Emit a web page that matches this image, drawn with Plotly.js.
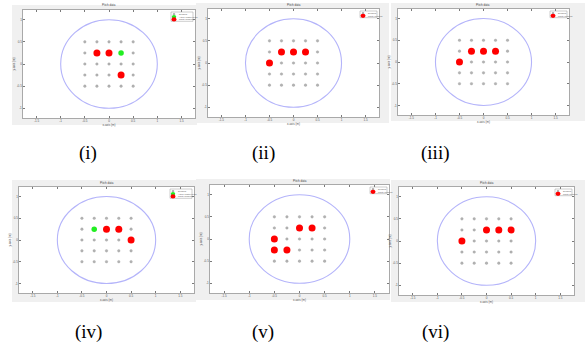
<!DOCTYPE html>
<html>
<head>
<meta charset="utf-8">
<script src="https://cdn.plot.ly/plotly-3.0.1.min.js"></script>
<style>html,body{margin:0;padding:0;background:#fff;}#chart{width:585px;height:348px;}</style>
</head>
<body>
<div id="chart"></div>
<script>
// ---- data ----
const gridVals = [-0.5, -0.25, 0, 0.25, 0.5];
const circleRadius = 1;
const panelLabels = ["(i)", "(ii)", "(iii)", "(iv)", "(v)", "(vi)"];
const panelTitles = ["Pitch data", "Pitch data", "Pitch data", "Pitch data", "Pitch data", "Pitch data"];
const xTicks = [-1.5, -1, -0.5, 0, 0.5, 1, 1.5];
const xTickText = ["-1.5", "-1", "-0.5", "0", "0.5", "1", "1.5"];
const yTicks = [-1, -0.5, 0, 0.5, 1];
const yTickText = ["-1", "-0.5", "0", "0.5", "1"];

const redX1 = [-0.25, 0, 0.25], redY1 = [0.25, 0.25, -0.25];
const greenX1 = [0.25], greenY1 = [0.25];
const redX2 = [-0.25, 0, 0.25, -0.5], redY2 = [0.25, 0.25, 0.25, 0];
const redX3 = [-0.25, 0, 0.25, -0.5], redY3 = [0.25, 0.25, 0.25, 0];
const redX4 = [0, 0.25, 0.5], redY4 = [0.25, 0.25, 0];
const greenX4 = [-0.25], greenY4 = [0.25];
const redX5 = [0, 0.25, -0.5, -0.5, -0.25], redY5 = [0.25, 0.25, 0, -0.25, -0.25];
const redX6 = [0, 0.25, 0.5, -0.5], redY6 = [0.25, 0.25, 0.25, 0];

const legendSensor = "Sensors";
const legendGreen = "Active cluster head";
const legendRed = "Faulty sensors";

// ---- layout geometry (pixels) ----
const W = 585, H = 348;
const plotBoxes = [
  [23, 10, 195, 118], [208, 9, 379, 117], [398, 9, 569, 115],
  [19, 187, 194, 293], [210, 185, 389, 293], [399, 187, 574, 295]
];
const grayBoxes = [
  [12, 5, 197, 125], [196, 3, 389, 123], [391, 3, 585, 121],
  [12, 180, 196, 302], [196, 179, 390, 300], [391, 180, 585, 302]
];
const labelPos = [[88, 153], [263, 153], [435, 153], [88, 332], [263, 332], [435, 332]];

const reds = [[redX1, redY1], [redX2, redY2], [redX3, redY3], [redX4, redY4], [redX5, redY5], [redX6, redY6]];
const greens = [[greenX1, greenY1], null, null, [greenX4, greenY4], null, null];

const gx = [], gy = [];
gridVals.forEach(y => gridVals.forEach(x => { gx.push(x); gy.push(y); }));

const px = v => v / W, py = v => 1 - v / H;

const traces = [];
const layout = {
  width: W, height: H, margin: {l: 0, r: 0, t: 0, b: 0},
  paper_bgcolor: "#ffffff", plot_bgcolor: "#ffffff",
  showlegend: false, shapes: [], annotations: [],
  font: {family: "Liberation Sans, Arial, sans-serif", size: 3, color: "#444"}
};

for (let i = 0; i < 6; i++) {
  const n = i + 1;
  const xa = n === 1 ? "x" : "x" + n;
  const ya = n === 1 ? "y" : "y" + n;
  const [x0, y0, x1, y1] = plotBoxes[i];
  const axBase = {
    showgrid: false, zeroline: false, showline: true, mirror: "ticks",
    linecolor: "#7a7a7a", linewidth: 0.6, ticks: "inside", ticklen: 2,
    tickcolor: "#7a7a7a", tickfont: {size: 3, color: "#555"}, fixedrange: true
  };
  layout["xaxis" + (n === 1 ? "" : n)] = Object.assign({}, axBase, {
    domain: [x0 / W, x1 / W], anchor: ya, range: [-1.78, 1.78],
    tickvals: xTicks, ticktext: xTickText,
    title: {text: "x-axis (m)", font: {size: 3, color: "#555"}, standoff: 1}
  });
  layout["yaxis" + (n === 1 ? "" : n)] = Object.assign({}, axBase, {
    domain: [1 - y1 / H, 1 - y0 / H], anchor: xa, range: [-1.22, 1.22],
    tickvals: yTicks, ticktext: yTickText,
    title: {text: "y-axis (m)", font: {size: 3, color: "#555"}, standoff: 1}
  });
  // gray figure background
  const [gx0, gy0, gx1, gy1] = grayBoxes[i];
  layout.shapes.push({type: "rect", xref: "paper", yref: "paper", layer: "below",
    x0: px(gx0), x1: px(gx1), y0: py(gy1), y1: py(gy0),
    fillcolor: "#f0f0f0", line: {width: 0}});
  layout.shapes.push({type: "rect", xref: "paper", yref: "paper", layer: "below",
    x0: px(x0), x1: px(x1), y0: py(y1), y1: py(y0),
    fillcolor: "#ffffff", line: {width: 0}});
  // circle boundary
  layout.shapes.push({type: "circle", xref: xa, yref: ya, layer: "above",
    x0: -circleRadius, x1: circleRadius, y0: -circleRadius, y1: circleRadius,
    line: {color: "#b4b4fa", width: 1.1}});
  // title
  layout.annotations.push({xref: "paper", yref: "paper", x: px((x0 + x1) / 2), y: py(y0 - 0.5),
    xanchor: "center", yanchor: "bottom", showarrow: false, text: panelTitles[i],
    font: {size: 3, color: "#444"}});
  // panel label
  layout.annotations.push({xref: "paper", yref: "paper", x: px(labelPos[i][0]), y: py(labelPos[i][1]),
    xanchor: "center", yanchor: "middle", showarrow: false, text: panelLabels[i],
    font: {family: "Liberation Serif, Times New Roman, serif", size: 19, color: "#000"}});

  // compact legend (MATLAB-style, tiny)
  const entries = [[legendSensor, "#b0b0b0", 1.3]];
  if (greens[i]) entries.push([legendGreen, "#22ee22", 2.2]);
  entries.push([legendRed, "#ff0000", 2.5]);
  const lw = greens[i] ? 22 : 17, rowH = 2.6;
  const lh = entries.length * rowH + 1.5;
  const lx1 = x1 - 2, lx0 = lx1 - lw, ly0 = y0 + 2, ly1 = ly0 + lh;
  layout.shapes.push({type: "rect", xref: "paper", yref: "paper", layer: "above",
    x0: px(lx0), x1: px(lx1), y0: py(ly1), y1: py(ly0),
    fillcolor: "#ffffff", line: {color: "#9a9a9a", width: 0.5}});
  entries.forEach((e, k) => {
    const cy = ly0 + 0.9 + rowH * (k + 0.5);
    const cx = lx0 + 3;
    const r = e[2];
    layout.shapes.push({type: "circle", xref: "paper", yref: "paper", layer: "above",
      x0: px(cx - r), x1: px(cx + r), y0: py(cy + r * 0.85), y1: py(cy - r * 0.85),
      fillcolor: e[1], line: {width: 0}});
    layout.annotations.push({xref: "paper", yref: "paper", x: px(cx + 3.5), y: py(cy),
      xanchor: "left", yanchor: "middle", showarrow: false, text: e[0],
      font: {size: 2.2, color: "#555"}, borderpad: 0});
  });

  traces.push({type: "scatter", mode: "markers", x: gx, y: gy, xaxis: xa, yaxis: ya,
    name: legendSensor,
    marker: {size: 2.6, color: "#b3b3b3", line: {color: "#999999", width: 0.3}}, hoverinfo: "skip"});
  if (greens[i]) {
    traces.push({type: "scatter", mode: "markers", x: greens[i][0], y: greens[i][1], xaxis: xa, yaxis: ya,
      name: legendGreen,
      marker: {size: 5.5, color: "#22ee22", line: {width: 0}}, hoverinfo: "skip"});
  }
  traces.push({type: "scatter", mode: "markers", x: reds[i][0], y: reds[i][1], xaxis: xa, yaxis: ya,
    name: legendRed,
    marker: {size: 7, color: "#ff0000", line: {width: 0}}, hoverinfo: "skip"});
}

Plotly.newPlot("chart", traces, layout, {staticPlot: true, displayModeBar: false});
</script>
</body>
</html>
